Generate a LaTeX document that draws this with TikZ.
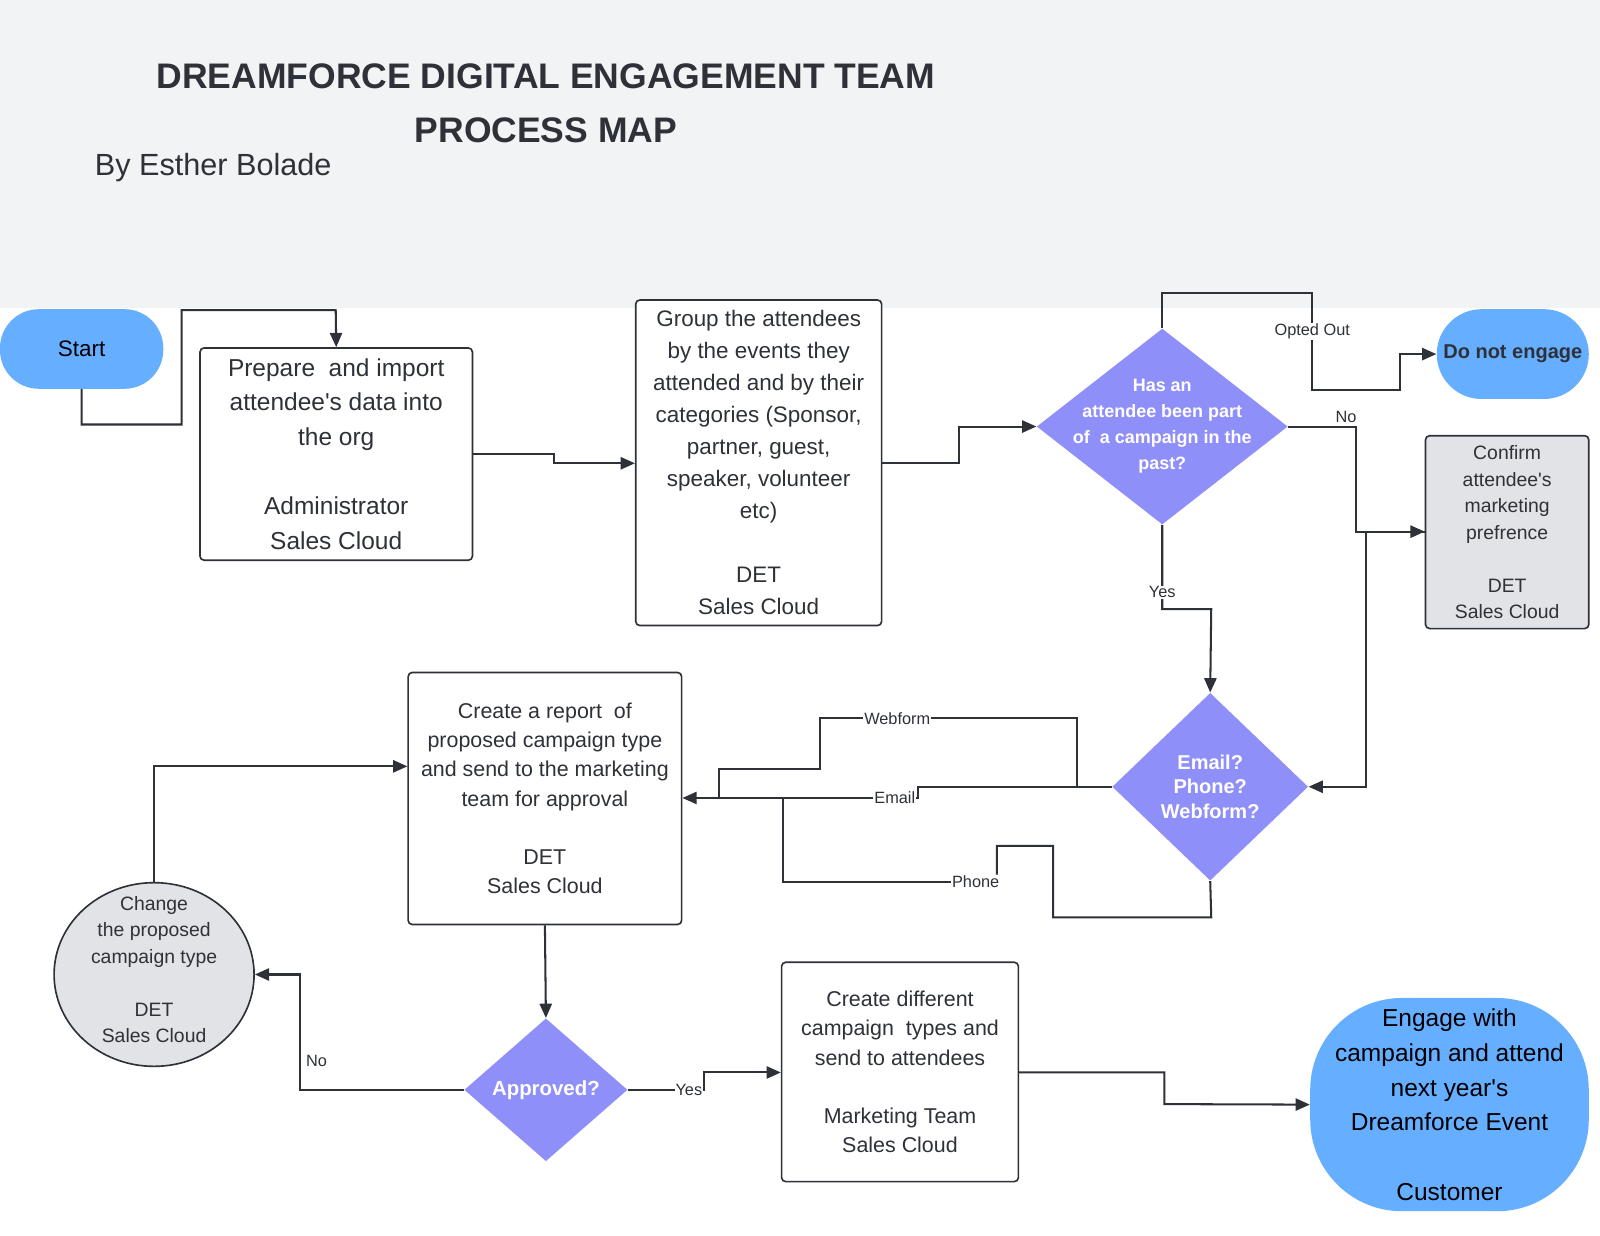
\documentclass[tikz,border=0pt]{standalone}
\usepackage{fontspec}
\setmainfont{Liberation Sans}[Ligatures=TeXOff]
\usetikzlibrary{shapes.geometric,arrows.meta}
\definecolor{lc}{HTML}{2E3138}
\definecolor{pill}{HTML}{66AEFF}
\definecolor{dia}{HTML}{8F8FF9}
\definecolor{gr}{HTML}{E1E3E7}
\definecolor{hdr}{HTML}{F2F3F5}
\begin{document}
\begin{tikzpicture}[x=0.5pt,y=-0.5pt,
  ln/.style={draw=lc,line width=1pt},
  ar/.style={ln,-{Triangle[length=7pt,width=6pt]}},
  boxs/.style={draw=lc,line width=0.8pt,rounded corners=2pt,fill=white,align=center,text=lc,inner sep=0pt},
  dias/.style={diamond,fill=dia,inner sep=0pt},
  dtxt/.style={text=white,align=center,inner sep=0pt},
  lab/.style={fill=white,inner sep=0.5pt,font=\fontsize{8}{9}\selectfont,text=lc}]
\useasboundingbox (0,0) rectangle (1568,1211);
\fill[white] (0,0) rectangle (1568,1211);
\fill[hdr] (0,0) rectangle (1568,302);
\node[font=\fontsize{17.4}{21}\selectfont\bfseries,text=lc] (t1) at (535,75) {DREAMFORCE DIGITAL ENGAGEMENT TEAM};
\node[font=\fontsize{17.4}{21}\selectfont\bfseries,text=lc] (t2) at (535,128) {PROCESS MAP};
\node[font=\fontsize{15}{18}\selectfont,text=lc,anchor=west] (by) at (86,164) {By Esther Bolade};

\node[fill=pill,rounded corners=19pt,minimum width=80pt,minimum height=39pt,font=\fontsize{11}{13}\selectfont,text=black] (start) at (80,342) {Start};
\node[boxs,minimum width=133.5pt,minimum height=104pt,font=\fontsize{12}{17}\selectfont] (prep) at (329.5,445) {Prepare\ \ and import\\attendee's data into\\the org\\[17pt]Administrator\\Sales Cloud};
\node[boxs,minimum width=120.5pt,minimum height=159.5pt,font=\fontsize{11}{15.7}\selectfont] (grp) at (743.5,453.5) {Group the attendees\\by the events they\\attended and by their\\categories (Sponsor,\\partner, guest,\\speaker, volunteer\\etc)\\[15.7pt]DET\\Sales Cloud};
\node[dias,minimum width=123pt,minimum height=96pt] (d1) at (1139,418) {};
\node[dtxt,font=\fontsize{8.8}{12.7}\selectfont\bfseries] (d1t) at (d1) {Has an\\attendee been part\\of\ \ a campaign in the\\past?};
\node[fill=pill,rounded corners=22pt,minimum width=74.5pt,minimum height=44pt,font=\fontsize{9.8}{12}\selectfont\bfseries,text=lc,inner sep=0pt] (dne) at (1482.5,347) {Do not engage};
\node[boxs,fill=gr,minimum width=80pt,minimum height=94.5pt,font=\fontsize{9.5}{13}\selectfont] (conf) at (1477,521.5) {Confirm\\attendee's\\marketing\\prefrence\\[13pt]DET\\Sales Cloud};
\node[dias,minimum width=96pt,minimum height=92pt] (d2) at (1186,771) {};
\node[dtxt,font=\fontsize{9.8}{12}\selectfont\bfseries] (d2t) at (d2) {Email?\\Phone?\\Webform?};
\node[boxs,minimum width=134pt,minimum height=123.5pt,font=\fontsize{10.5}{14.3}\selectfont] (rep) at (534,782.5) {Create a report\ \ of\\proposed campaign type\\and send to the marketing\\team for approval\\[14.3pt]DET\\Sales Cloud};
\node[ellipse,draw=lc,line width=0.8pt,fill=gr,minimum width=98pt,minimum height=90pt,align=center,text=lc,inner sep=0pt,font=\fontsize{9.5}{13}\selectfont] (chg) at (151,955) {};
\node[text=lc,align=center,inner sep=0pt,font=\fontsize{9.5}{13}\selectfont] (chgt) at (151,950) {Change\\the proposed\\campaign type\\[13pt]DET\\Sales Cloud};
\node[dias,minimum width=80pt,minimum height=70pt] (appr) at (535,1068) {};
\node[dtxt,font=\fontsize{10}{12}\selectfont\bfseries] (apprt) at (appr) {Approved?};
\node[boxs,minimum width=116pt,minimum height=107.5pt,font=\fontsize{10.5}{14.3}\selectfont] (crt) at (882,1050.5) {Create different\\campaign\ \ types and\\send to attendees\\[14.3pt]Marketing Team\\Sales Cloud};
\node[fill=pill,rounded corners=45pt,minimum width=136.5pt,minimum height=104.5pt,align=center,font=\fontsize{12}{17}\selectfont,text=black,inner sep=0pt] (eng) at (1420.5,1082.5) {Engage with\\campaign and attend\\next year's\\Dreamforce Event\\[17pt]Customer};

% connectors
\draw[ar] (start.south) -- (80,416) -- (178,416) -- (178,304) -- (329,304) -- (prep.north);
\draw[ar] (prep.east |- 0,445) -- (543,445) -- (543,454) -- (grp.west |- 0,454);
\draw[ar] (grp.east |- 0,454) -- (940,454) -- (940,418) -- (d1.west);
\draw[ar] (d1.north) -- (1139,287) -- (1286,287) -- node[lab,pos=0.4]{Opted Out} (1286,382) -- (1372,382) -- (1372,347) -- (dne.west);
\draw[ar] (d1.east) -- node[lab,pos=0.85,above=1pt,fill=none]{No} (1329,418) -- (1329,521) -- (conf.west |- 0,521);
\draw[ar] (d1.south) -- node[lab,pos=0.8]{Yes} (1139,597) -- (1187,597) -- (d2.north);
\draw[ar] (conf.west |- 0,521) -- (1339,521) -- (1339,771) -- (d2.east);
\draw[ar] (d2.west) -- (900,771) -- (900,782) -- node[lab,pos=0.1]{Email} (rep.east |- 0,782);
\draw[ln] (1055,771) -- (1055,704) -- node[lab,pos=0.7]{Webform} (804,704) -- (804,754) -- (705,754) -- (705,782);
\draw[ln] (d2.south) -- (1187,899) -- (1032,899) -- (1032,829) -- (977,829) -- (977,857);
\draw[ln] (960,864) -- node[lab,pos=0.02]{Phone} (767,864) -- (767,782);
\draw[ar] (rep.south) -- (appr.north);
\draw[ar] (appr.east) -- node[lab,pos=0.8]{Yes} (690,1068) -- (690,1051) -- (crt.west |- 0,1051);
\draw[ar] (appr.west) -- (294,1068) -- node[lab,pos=0.25,right=2pt,fill=none]{No} (294,955) -- (chg.east);
\draw[ar] (chg.north) -- (151,751) -- (rep.west |- 0,751);
\draw[ar] (crt.east |- 0,1051) -- (1141,1051) -- (1141,1082) -- (eng.west);
\end{tikzpicture}
\end{document}
